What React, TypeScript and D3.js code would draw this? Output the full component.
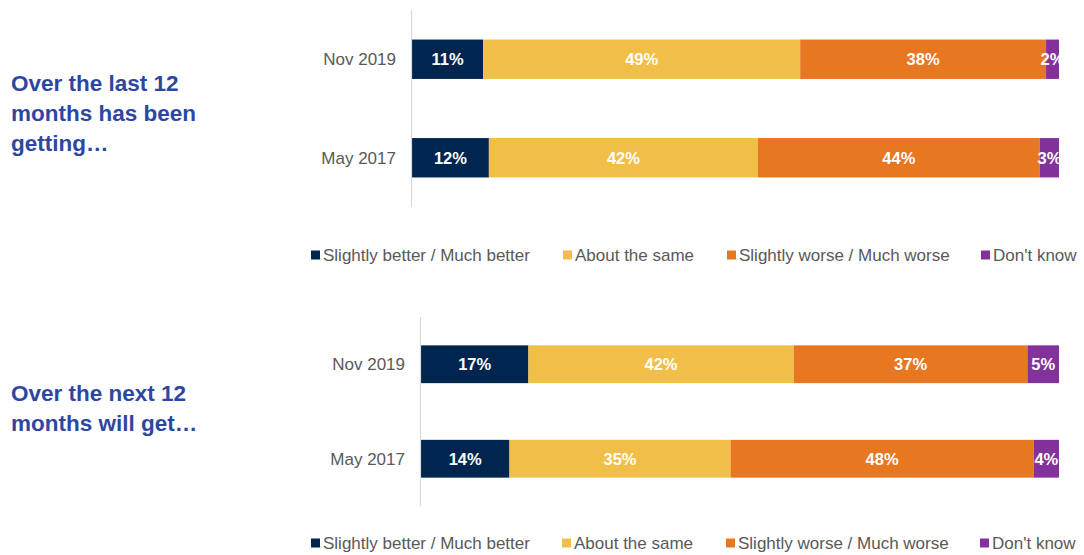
import React from "react";
import * as d3 from "d3";

const categories = ["Nov 2019", "May 2017"];
const seriesNames = [
  "Slightly better / Much better",
  "About the same",
  "Slightly worse / Much worse",
  "Don't know",
];
const seriesColors = ["#00254F", "#F1BE48", "#E87722", "#84329B"];

const lastBetter = [11, 12];
const lastSame = [49, 42];
const lastWorse = [38, 44];
const lastDontKnow = [2, 3];

const nextBetter = [17, 14];
const nextSame = [42, 35];
const nextWorse = [37, 48];
const nextDontKnow = [5, 4];

const lastTitle = ["Over the last 12", "months has been", "getting…"];
const nextTitle = ["Over the next 12", "months will get…"];

const FONT = "'Liberation Sans', Arial, Helvetica, sans-serif";

type PanelProps = {
  values: number[][];
  title: string[];
  titleY: number;
  axisX: number;
  yTop: number;
  yBottom: number;
  legendY: number;
  legendX: number[];
};

function Panel({ values, title, titleY, axisX, yTop, yBottom, legendY, legendX }: PanelProps) {
  const rows = categories.map((c, i) => {
    const r: any = { cat: c };
    seriesNames.forEach((s, j) => (r[s] = values[j][i]));
    return r;
  });
  const stack = d3.stack<any>().keys(seriesNames).offset(d3.stackOffsetExpand);
  const stacked = stack(rows);
  const x = d3.scaleLinear().domain([0, 1]).range([axisX + 1, 1059]);
  const y = d3
    .scaleBand<string>()
    .domain(categories)
    .range([yTop, yBottom])
    .paddingInner(0.6)
    .paddingOuter(0.3);

  return (
    <g>
      <text
        x={11}
        y={titleY}
        fill="#2D47A1"
        fontFamily={FONT}
        fontWeight="bold"
        fontSize={22.5}
      >
        {title.map((t, i) => (
          <tspan key={i} x={11} dy={i === 0 ? 0 : 30}>
            {t}
          </tspan>
        ))}
      </text>
      {stacked.map((layer, j) => (
        <g key={layer.key} fill={seriesColors[j]}>
          {layer.map((d, i) => (
            <rect
              key={i}
              x={x(d[0])}
              y={y(categories[i])!}
              width={x(d[1]) - x(d[0])}
              height={y.bandwidth()}
            />
          ))}
        </g>
      ))}
      {stacked.map((layer, j) => (
        <g key={"l" + layer.key}>
          {layer.map((d, i) => (
            <text
              key={i}
              x={(x(d[0]) + x(d[1])) / 2}
              y={y(categories[i])! + y.bandwidth() / 2}
              dy="0.36em"
              textAnchor="middle"
              fill="#FFFFFF"
              fontFamily={FONT}
              fontWeight="bold"
              fontSize={16.5}
            >
              {values[j][i] + "%"}
            </text>
          ))}
        </g>
      ))}
      <line
        x1={axisX + 0.5}
        x2={axisX + 0.5}
        y1={yTop}
        y2={yBottom}
        stroke="#D9D9D9"
        strokeWidth={1.2}
      />
      {categories.map((c) => (
        <text
          key={c}
          x={axisX - 15}
          y={y(c)! + y.bandwidth() / 2}
          dy="0.36em"
          textAnchor="end"
          fill="#595959"
          fontFamily={FONT}
          fontSize={17}
        >
          {c}
        </text>
      ))}
      {seriesNames.map((s, j) => (
        <g key={s} transform={`translate(${legendX[j]},${legendY})`}>
          <rect x={0} y={-4.5} width={9} height={9} fill={seriesColors[j]} />
          <text
            x={12}
            y={0}
            dy="0.36em"
            fill="#595959"
            fontFamily={FONT}
            fontSize={17}
          >
            {s}
          </text>
        </g>
      ))}
    </g>
  );
}

export default function App() {
  return (
    <svg
      width={1084}
      height={555}
      style={{ position: "absolute", left: 0, top: 0, background: "#FFFFFF" }}
    >
      <Panel
        values={[lastBetter, lastSame, lastWorse, lastDontKnow]}
        title={lastTitle}
        titleY={91}
        axisX={411}
        yTop={10}
        yBottom={207}
        legendY={255}
        legendX={[311, 563, 727, 981]}
      />
      <Panel
        values={[nextBetter, nextSame, nextWorse, nextDontKnow]}
        title={nextTitle}
        titleY={401}
        axisX={420}
        yTop={317}
        yBottom={506}
        legendY={543}
        legendX={[311, 562, 726, 980]}
      />
    </svg>
  );
}
